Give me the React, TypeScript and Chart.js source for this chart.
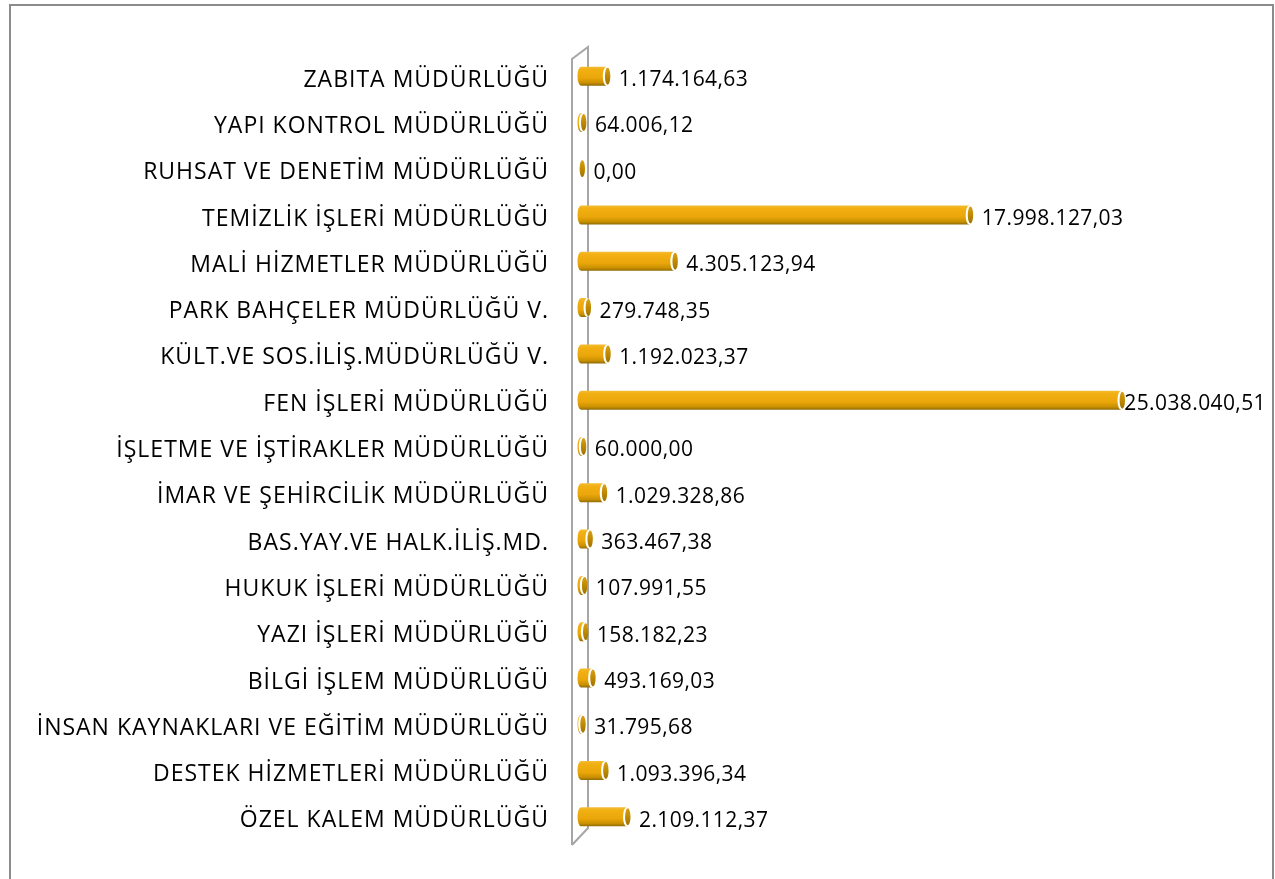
import React, { useEffect, useRef } from "react";
import { Chart, registerables } from "chart.js";

Chart.register(...registerables);

const categories: string[] = [
  "ZABITA MÜDÜRLÜĞÜ",
  "YAPI KONTROL MÜDÜRLÜĞÜ",
  "RUHSAT VE DENETİM MÜDÜRLÜĞÜ",
  "TEMİZLİK İŞLERİ MÜDÜRLÜĞÜ",
  "MALİ HİZMETLER MÜDÜRLÜĞÜ",
  "PARK BAHÇELER MÜDÜRLÜĞÜ V.",
  "KÜLT.VE SOS.İLİŞ.MÜDÜRLÜĞÜ V.",
  "FEN İŞLERİ MÜDÜRLÜĞÜ",
  "İŞLETME VE İŞTİRAKLER MÜDÜRLÜĞÜ",
  "İMAR VE ŞEHİRCİLİK MÜDÜRLÜĞÜ",
  "BAS.YAY.VE HALK.İLİŞ.MD.",
  "HUKUK İŞLERİ MÜDÜRLÜĞÜ",
  "YAZI İŞLERİ MÜDÜRLÜĞÜ",
  "BİLGİ İŞLEM MÜDÜRLÜĞÜ",
  "İNSAN KAYNAKLARI VE EĞİTİM MÜDÜRLÜĞÜ",
  "DESTEK HİZMETLERİ MÜDÜRLÜĞÜ",
  "ÖZEL KALEM MÜDÜRLÜĞÜ",
];

const values: number[] = [
  1174164.63, 64006.12, 0, 17998127.03, 4305123.94, 279748.35, 1192023.37,
  25038040.51, 60000.0, 1029328.86, 363467.38, 107991.55, 158182.23,
  493169.03, 31795.68, 1093396.34, 2109112.37,
];

const axisMin = 0;
const axisMax = 30000000;

const FONT = "'Open Sans', Lato, sans-serif";

function formatTR(v: number): string {
  const fixed = v.toFixed(2);
  const [intPart, dec] = fixed.split(".");
  const withDots = intPart.replace(/\B(?=(\d{3})+(?!\d))/g, ".");
  return withDots + "," + dec;
}

const framePlugin = {
  id: "frame",
  beforeDraw(chart: any) {
    const ctx = chart.ctx;
    ctx.save();
    ctx.fillStyle = "#ffffff";
    ctx.fillRect(0, 0, chart.width, chart.height);
    ctx.strokeStyle = "#8c8c8c";
    ctx.lineWidth = 2;
    ctx.beginPath();
    ctx.moveTo(10, chart.height + 5);
    ctx.lineTo(10, 5);
    ctx.lineTo(1273, 5);
    ctx.lineTo(1273, chart.height + 5);
    ctx.stroke();
    ctx.restore();
  },
  beforeDatasetsDraw(chart: any) {
    const { ctx, chartArea } = chart;
    const L = chartArea.left;
    const T = chartArea.top;
    const B = chartArea.bottom;
    ctx.save();
    ctx.strokeStyle = "#a6a6a6";
    ctx.lineWidth = 2;
    ctx.beginPath();
    ctx.moveTo(L - 5, B + 5);
    ctx.lineTo(L - 5, T + 6);
    ctx.lineTo(L + 11, T - 6);
    ctx.lineTo(L + 11, B - 12);
    ctx.lineTo(L - 5, B + 5);
    ctx.stroke();

    // category labels, placed with the category scale
    const yScale = chart.scales.y;
    ctx.font = "23px " + FONT;
    (ctx as any).letterSpacing = "1px";
    ctx.fillStyle = "#000000";
    ctx.textAlign = "right";
    ctx.textBaseline = "middle";
    chart.data.labels.forEach((lab: string, i: number) => {
      const y = yScale.getPixelForValue(i);
      ctx.fillText(lab, 549, y + 4);
    });
    ctx.restore();
  },
};

const cylinderPlugin = {
  id: "cylinders",
  afterDatasetsDraw(chart: any) {
    const ctx = chart.ctx;
    const meta = chart.getDatasetMeta(0);
    const ds = chart.data.datasets[0];
    ctx.save();
    meta.data.forEach((bar: any, i: number) => {
      const x0 = bar.base + 4;
      const x1 = bar.x + 4;
      const yc = bar.y;
      const h = bar.height;
      const top = yc - h / 2;
      const rx = Math.min(3.5, h / 5);
      const ry = h / 2;
      const g = ctx.createLinearGradient(0, top, 0, top + h);
      g.addColorStop(0, "#f3bd35");
      g.addColorStop(0.15, "#f2b012");
      g.addColorStop(0.6, "#eaa60a");
      g.addColorStop(0.85, "#c99000");
      g.addColorStop(1, "#8f6a08");
      if (x1 - x0 > 0.5) {
        ctx.fillStyle = g;
        ctx.beginPath();
        ctx.ellipse(x0, yc, rx, ry, 0, Math.PI / 2, (Math.PI * 3) / 2);
        ctx.lineTo(x1, top);
        ctx.lineTo(x1, top + h);
        ctx.closePath();
        ctx.fill();
      }
      // end cap
      ctx.fillStyle = "#ffffff";
      ctx.beginPath();
      ctx.ellipse(x1, yc, rx, ry, 0, 0, Math.PI * 2);
      ctx.fill();
      const cg = ctx.createLinearGradient(0, top, 0, top + h);
      cg.addColorStop(0, "#d9a21a");
      cg.addColorStop(0.5, "#c08a00");
      cg.addColorStop(1, "#9a7000");
      ctx.fillStyle = cg;
      ctx.beginPath();
      ctx.ellipse(x1 + 1.3, yc, rx - 0.8, ry - 1, 0, 0, Math.PI * 2);
      ctx.fill();

      // value label
      const text = formatTR(ds.data[i]);
      ctx.font = "21px " + FONT;
      (ctx as any).letterSpacing = "0.4px";
      ctx.fillStyle = "#000000";
      ctx.textBaseline = "middle";
      ctx.textAlign = "left";
      let tx = x1 + rx + 9;
      const w = ctx.measureText(text).width;
      if (tx + w > 1266) tx = 1266 - w;
      ctx.fillText(text, tx, yc + 4);
    });
    ctx.restore();
  },
};

export default function App() {
  const ref = useRef<HTMLCanvasElement | null>(null);
  useEffect(() => {
    if (!ref.current) return;
    const chart = new Chart(ref.current, {
      type: "bar",
      data: {
        labels: categories,
        datasets: [
          {
            data: values,
            backgroundColor: "rgba(0,0,0,0)",
            borderWidth: 0,
            barThickness: 19,
          },
        ],
      },
      options: {
        indexAxis: "y",
        animation: false,
        responsive: false,
        maintainAspectRatio: false,
        layout: { padding: { top: 53, bottom: 39, right: 51, left: 0 } },
        plugins: {
          legend: { display: false },
          tooltip: { enabled: false },
        },
        scales: {
          x: {
            display: false,
            min: axisMin,
            max: axisMax,
          },
          y: {
            grid: { display: false, drawTicks: false },
            border: { display: false },
            ticks: { display: false },
            afterFit(scale: any) {
              scale.width = 577;
              scale.paddingTop = 0;
              scale.paddingBottom = 0;
            },
          },
        },
      },
      plugins: [framePlugin, cylinderPlugin],
    });
    return () => chart.destroy();
  }, []);
  return (
    <div style={{ position: "fixed", left: 0, top: 0, width: 1275, height: 879 }}>
      <canvas ref={ref} width={1275} height={879} style={{ width: 1275, height: 879 }} />
    </div>
  );
}
